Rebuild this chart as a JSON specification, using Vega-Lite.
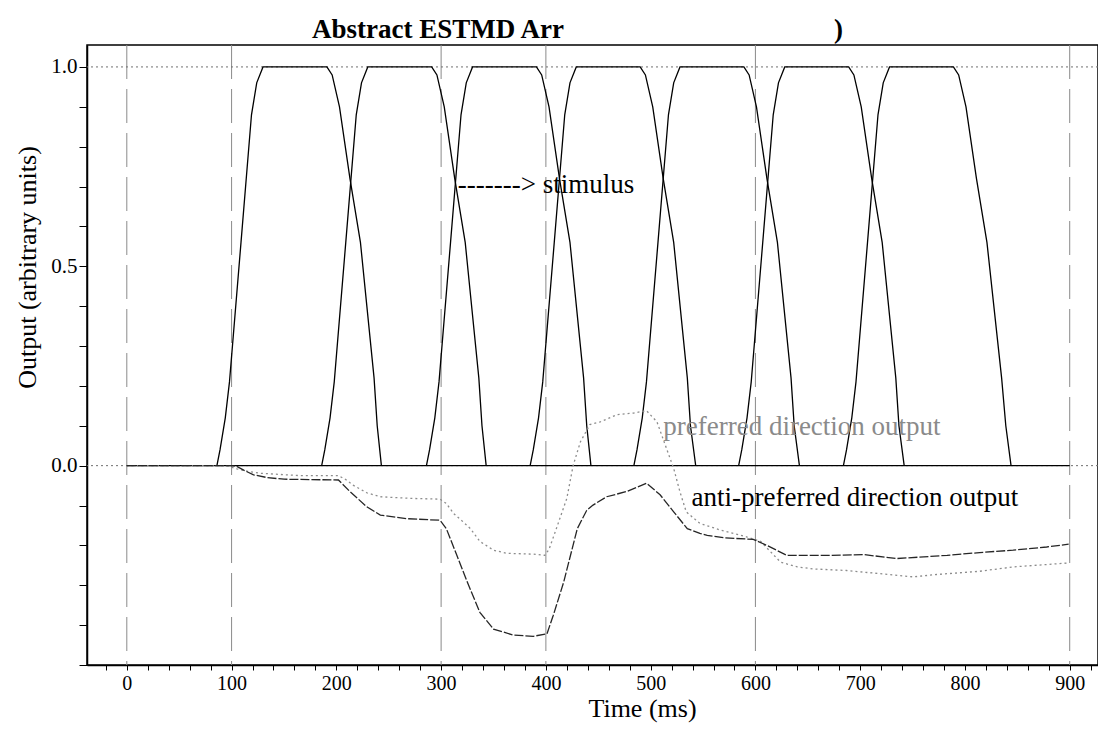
{
  "$schema": "https://vega.github.io/schema/vega-lite/v6.json",
  "width": 1011,
  "height": 620,
  "autosize": {"type": "none"},
  "padding": {"left": 87, "top": 45, "right": 0, "bottom": 64},
  "background": "#ffffff",
  "config": {
    "font": "Liberation Serif",
    "view": {"stroke": "#000000", "strokeWidth": 1.5},
    "axis": {
      "domainColor": "#000000",
      "domainWidth": 1.5,
      "tickColor": "#000000",
      "grid": false,
      "labelFont": "Liberation Serif",
      "labelColor": "#000000",
      "titleFont": "Liberation Serif",
      "titleColor": "#000000",
      "titleFontWeight": "normal"
    }
  },
  "title": {
    "text": "Abstract ESTMD Arr\u00a0\u00a0\u00a0\u00a0\u00a0\u00a0\u00a0\u00a0\u00a0\u00a0\u00a0\u00a0\u00a0\u00a0\u00a0\u00a0\u00a0\u00a0\u00a0\u00a0\u00a0\u00a0\u00a0\u00a0\u00a0\u00a0\u00a0\u00a0\u00a0\u00a0\u00a0\u00a0\u00a0\u00a0\u00a0\u00a0\u00a0\u00a0\u00a0\u00a0)",
    "anchor": "start",
    "frame": "group",
    "dx": 225,
    "dy": 29,
    "offset": 9,
    "baseline": "alphabetic",
    "font": "Liberation Serif",
    "fontSize": 27,
    "fontWeight": "bold",
    "color": "#000000"
  },
  "datasets": {
    "stimulus": [
      {"pulse": "base", "t": 0, "v": 0}, {"pulse": "base", "t": 900, "v": 0},
      {"pulse": "p1", "t": 86, "v": 0}, {"pulse": "p1", "t": 89, "v": 0.04}, {"pulse": "p1", "t": 94, "v": 0.12}, {"pulse": "p1", "t": 98, "v": 0.21},
      {"pulse": "p1", "t": 109, "v": 0.56}, {"pulse": "p1", "t": 119, "v": 0.88}, {"pulse": "p1", "t": 124, "v": 0.96}, {"pulse": "p1", "t": 130, "v": 1},
      {"pulse": "p1", "t": 191, "v": 1}, {"pulse": "p1", "t": 196, "v": 0.98}, {"pulse": "p1", "t": 203, "v": 0.9}, {"pulse": "p1", "t": 213, "v": 0.72},
      {"pulse": "p1", "t": 223, "v": 0.56}, {"pulse": "p1", "t": 236, "v": 0.22}, {"pulse": "p1", "t": 239, "v": 0.1}, {"pulse": "p1", "t": 243, "v": 0},
      {"pulse": "p2", "t": 186, "v": 0}, {"pulse": "p2", "t": 189, "v": 0.04}, {"pulse": "p2", "t": 194, "v": 0.12}, {"pulse": "p2", "t": 198, "v": 0.21},
      {"pulse": "p2", "t": 209, "v": 0.56}, {"pulse": "p2", "t": 219, "v": 0.88}, {"pulse": "p2", "t": 224, "v": 0.96}, {"pulse": "p2", "t": 230, "v": 1},
      {"pulse": "p2", "t": 291, "v": 1}, {"pulse": "p2", "t": 296, "v": 0.98}, {"pulse": "p2", "t": 303, "v": 0.9}, {"pulse": "p2", "t": 313, "v": 0.72},
      {"pulse": "p2", "t": 323, "v": 0.56}, {"pulse": "p2", "t": 336, "v": 0.22}, {"pulse": "p2", "t": 339, "v": 0.1}, {"pulse": "p2", "t": 343, "v": 0},
      {"pulse": "p3", "t": 286, "v": 0}, {"pulse": "p3", "t": 289, "v": 0.04}, {"pulse": "p3", "t": 294, "v": 0.12}, {"pulse": "p3", "t": 298, "v": 0.21},
      {"pulse": "p3", "t": 309, "v": 0.56}, {"pulse": "p3", "t": 319, "v": 0.88}, {"pulse": "p3", "t": 324, "v": 0.96}, {"pulse": "p3", "t": 330, "v": 1},
      {"pulse": "p3", "t": 391, "v": 1}, {"pulse": "p3", "t": 396, "v": 0.98}, {"pulse": "p3", "t": 403, "v": 0.9}, {"pulse": "p3", "t": 413, "v": 0.72},
      {"pulse": "p3", "t": 423, "v": 0.56}, {"pulse": "p3", "t": 436, "v": 0.22}, {"pulse": "p3", "t": 439, "v": 0.1}, {"pulse": "p3", "t": 443, "v": 0},
      {"pulse": "p4", "t": 385, "v": 0}, {"pulse": "p4", "t": 388, "v": 0.04}, {"pulse": "p4", "t": 393, "v": 0.12}, {"pulse": "p4", "t": 397, "v": 0.21},
      {"pulse": "p4", "t": 408, "v": 0.56}, {"pulse": "p4", "t": 418, "v": 0.88}, {"pulse": "p4", "t": 423, "v": 0.96}, {"pulse": "p4", "t": 429, "v": 1},
      {"pulse": "p4", "t": 490, "v": 1}, {"pulse": "p4", "t": 495, "v": 0.98}, {"pulse": "p4", "t": 502, "v": 0.9}, {"pulse": "p4", "t": 512, "v": 0.72},
      {"pulse": "p4", "t": 522, "v": 0.56}, {"pulse": "p4", "t": 535, "v": 0.22}, {"pulse": "p4", "t": 538, "v": 0.1}, {"pulse": "p4", "t": 543, "v": 0},
      {"pulse": "p5", "t": 484, "v": 0}, {"pulse": "p5", "t": 487, "v": 0.04}, {"pulse": "p5", "t": 492, "v": 0.12}, {"pulse": "p5", "t": 496, "v": 0.21},
      {"pulse": "p5", "t": 507, "v": 0.56}, {"pulse": "p5", "t": 517, "v": 0.88}, {"pulse": "p5", "t": 522, "v": 0.96}, {"pulse": "p5", "t": 528, "v": 1},
      {"pulse": "p5", "t": 589, "v": 1}, {"pulse": "p5", "t": 594, "v": 0.98}, {"pulse": "p5", "t": 601, "v": 0.9}, {"pulse": "p5", "t": 611, "v": 0.72},
      {"pulse": "p5", "t": 621, "v": 0.56}, {"pulse": "p5", "t": 634, "v": 0.22}, {"pulse": "p5", "t": 637, "v": 0.1}, {"pulse": "p5", "t": 642, "v": 0},
      {"pulse": "p6", "t": 584, "v": 0}, {"pulse": "p6", "t": 587, "v": 0.04}, {"pulse": "p6", "t": 592, "v": 0.12}, {"pulse": "p6", "t": 596, "v": 0.21},
      {"pulse": "p6", "t": 607, "v": 0.56}, {"pulse": "p6", "t": 617, "v": 0.88}, {"pulse": "p6", "t": 622, "v": 0.96}, {"pulse": "p6", "t": 628, "v": 1},
      {"pulse": "p6", "t": 689, "v": 1}, {"pulse": "p6", "t": 694, "v": 0.98}, {"pulse": "p6", "t": 701, "v": 0.9}, {"pulse": "p6", "t": 711, "v": 0.72},
      {"pulse": "p6", "t": 721, "v": 0.56}, {"pulse": "p6", "t": 734, "v": 0.22}, {"pulse": "p6", "t": 737, "v": 0.1}, {"pulse": "p6", "t": 742, "v": 0},
      {"pulse": "p7", "t": 684, "v": 0}, {"pulse": "p7", "t": 687, "v": 0.04}, {"pulse": "p7", "t": 692, "v": 0.12}, {"pulse": "p7", "t": 696, "v": 0.21},
      {"pulse": "p7", "t": 707, "v": 0.56}, {"pulse": "p7", "t": 717, "v": 0.88}, {"pulse": "p7", "t": 722, "v": 0.96}, {"pulse": "p7", "t": 728, "v": 1},
      {"pulse": "p7", "t": 789, "v": 1}, {"pulse": "p7", "t": 794, "v": 0.98}, {"pulse": "p7", "t": 801, "v": 0.9}, {"pulse": "p7", "t": 811, "v": 0.72},
      {"pulse": "p7", "t": 821, "v": 0.56}, {"pulse": "p7", "t": 835, "v": 0.22}, {"pulse": "p7", "t": 839, "v": 0.1}, {"pulse": "p7", "t": 844, "v": 0}
    ],
    "responses": [
      {"series": "preferred", "t": 0, "v": 0}, {"series": "preferred", "t": 95, "v": 0}, {"series": "preferred", "t": 105, "v": -0.008},
      {"series": "preferred", "t": 115, "v": -0.014}, {"series": "preferred", "t": 127, "v": -0.019}, {"series": "preferred", "t": 146, "v": -0.022},
      {"series": "preferred", "t": 165, "v": -0.025}, {"series": "preferred", "t": 202, "v": -0.025}, {"series": "preferred", "t": 209, "v": -0.035},
      {"series": "preferred", "t": 216, "v": -0.049}, {"series": "preferred", "t": 229, "v": -0.068}, {"series": "preferred", "t": 242, "v": -0.078},
      {"series": "preferred", "t": 270, "v": -0.082}, {"series": "preferred", "t": 299, "v": -0.084}, {"series": "preferred", "t": 305, "v": -0.095},
      {"series": "preferred", "t": 312, "v": -0.12}, {"series": "preferred", "t": 321, "v": -0.141}, {"series": "preferred", "t": 328, "v": -0.158},
      {"series": "preferred", "t": 337, "v": -0.19}, {"series": "preferred", "t": 350, "v": -0.212}, {"series": "preferred", "t": 363, "v": -0.22},
      {"series": "preferred", "t": 388, "v": -0.222}, {"series": "preferred", "t": 399, "v": -0.225}, {"series": "preferred", "t": 403, "v": -0.21},
      {"series": "preferred", "t": 410, "v": -0.158}, {"series": "preferred", "t": 420, "v": -0.082}, {"series": "preferred", "t": 426, "v": 0},
      {"series": "preferred", "t": 433, "v": 0.06}, {"series": "preferred", "t": 442, "v": 0.103}, {"series": "preferred", "t": 452, "v": 0.11},
      {"series": "preferred", "t": 468, "v": 0.128}, {"series": "preferred", "t": 484, "v": 0.132}, {"series": "preferred", "t": 496, "v": 0.138},
      {"series": "preferred", "t": 506, "v": 0.11}, {"series": "preferred", "t": 515, "v": 0.044}, {"series": "preferred", "t": 522, "v": -0.007},
      {"series": "preferred", "t": 528, "v": -0.066}, {"series": "preferred", "t": 534, "v": -0.116}, {"series": "preferred", "t": 547, "v": -0.145},
      {"series": "preferred", "t": 566, "v": -0.161}, {"series": "preferred", "t": 592, "v": -0.179}, {"series": "preferred", "t": 605, "v": -0.19},
      {"series": "preferred", "t": 624, "v": -0.242}, {"series": "preferred", "t": 640, "v": -0.254}, {"series": "preferred", "t": 655, "v": -0.259},
      {"series": "preferred", "t": 687, "v": -0.263}, {"series": "preferred", "t": 719, "v": -0.271}, {"series": "preferred", "t": 751, "v": -0.279},
      {"series": "preferred", "t": 773, "v": -0.273}, {"series": "preferred", "t": 814, "v": -0.265}, {"series": "preferred", "t": 846, "v": -0.254},
      {"series": "preferred", "t": 878, "v": -0.248}, {"series": "preferred", "t": 899, "v": -0.244},
      {"series": "anti-preferred", "t": 0, "v": 0}, {"series": "anti-preferred", "t": 100, "v": 0}, {"series": "anti-preferred", "t": 105, "v": -0.002},
      {"series": "anti-preferred", "t": 112, "v": -0.012}, {"series": "anti-preferred", "t": 121, "v": -0.023}, {"series": "anti-preferred", "t": 134, "v": -0.03},
      {"series": "anti-preferred", "t": 150, "v": -0.034}, {"series": "anti-preferred", "t": 202, "v": -0.036}, {"series": "anti-preferred", "t": 213, "v": -0.065},
      {"series": "anti-preferred", "t": 229, "v": -0.103}, {"series": "anti-preferred", "t": 242, "v": -0.124}, {"series": "anti-preferred", "t": 267, "v": -0.133},
      {"series": "anti-preferred", "t": 299, "v": -0.137}, {"series": "anti-preferred", "t": 305, "v": -0.158}, {"series": "anti-preferred", "t": 315, "v": -0.225},
      {"series": "anti-preferred", "t": 325, "v": -0.292}, {"series": "anti-preferred", "t": 337, "v": -0.368}, {"series": "anti-preferred", "t": 350, "v": -0.41},
      {"series": "anti-preferred", "t": 369, "v": -0.425}, {"series": "anti-preferred", "t": 388, "v": -0.428}, {"series": "anti-preferred", "t": 401, "v": -0.422},
      {"series": "anti-preferred", "t": 407, "v": -0.376}, {"series": "anti-preferred", "t": 417, "v": -0.292}, {"series": "anti-preferred", "t": 430, "v": -0.158},
      {"series": "anti-preferred", "t": 439, "v": -0.112}, {"series": "anti-preferred", "t": 445, "v": -0.099}, {"series": "anti-preferred", "t": 458, "v": -0.078},
      {"series": "anti-preferred", "t": 477, "v": -0.065}, {"series": "anti-preferred", "t": 496, "v": -0.044}, {"series": "anti-preferred", "t": 509, "v": -0.073},
      {"series": "anti-preferred", "t": 522, "v": -0.116}, {"series": "anti-preferred", "t": 535, "v": -0.158}, {"series": "anti-preferred", "t": 547, "v": -0.17},
      {"series": "anti-preferred", "t": 554, "v": -0.175}, {"series": "anti-preferred", "t": 570, "v": -0.181}, {"series": "anti-preferred", "t": 598, "v": -0.185},
      {"series": "anti-preferred", "t": 611, "v": -0.2}, {"series": "anti-preferred", "t": 630, "v": -0.225}, {"series": "anti-preferred", "t": 671, "v": -0.225},
      {"series": "anti-preferred", "t": 703, "v": -0.223}, {"series": "anti-preferred", "t": 735, "v": -0.233}, {"series": "anti-preferred", "t": 783, "v": -0.225},
      {"series": "anti-preferred", "t": 814, "v": -0.218}, {"series": "anti-preferred", "t": 846, "v": -0.212}, {"series": "anti-preferred", "t": 878, "v": -0.204},
      {"series": "anti-preferred", "t": 899, "v": -0.197}
    ],
    "notes": [
      {"series": "stimulus", "t": 316, "v": 0.685, "text": "-------> stimulus"},
      {"series": "preferred", "t": 512, "v": 0.078, "text": "preferred direction output"},
      {"series": "anti-preferred", "t": 539, "v": -0.1, "text": "anti-preferred direction output"}
    ],
    "gridTimes": [{"t": 0}, {"t": 100}, {"t": 300}, {"t": 400}, {"t": 600}, {"t": 900}],
    "gridLevels": [{"v": 0}, {"v": 1}]
  },
  "encoding": {
    "x": {
      "field": "t",
      "type": "quantitative",
      "scale": {"domain": [-38, 927], "nice": false, "zero": false},
      "axis": {
        "title": "Time (ms)",
        "titleFontSize": 26,
        "titleX": 555,
        "titleY": 51,
        "titleAlign": "center",
        "titleBaseline": "alphabetic",
        "values": [-20, 0, 20, 40, 60, 80, 100, 120, 140, 160, 180, 200, 220, 240, 260, 280, 300, 320, 340, 360, 380, 400, 420, 440, 460, 480, 500, 520, 540, 560, 580, 600, 620, 640, 660, 680, 700, 720, 740, 760, 780, 800, 820, 840, 860, 880, 900, 920],
        "labelExpr": "datum.value >= 0 && datum.value % 100 === 0 ? format(datum.value, 'd') : ''",
        "labelFontSize": 20,
        "labelPadding": 3,
        "labelFlush": false,
        "labelOverlap": false,
        "tickSize": 5
      }
    },
    "y": {
      "field": "v",
      "type": "quantitative",
      "scale": {"domain": [-0.5, 1.055], "nice": false, "zero": false},
      "axis": {
        "title": "Output (arbitrary units)",
        "titleFontSize": 26,
        "titleX": -60,
        "titleY": 222,
        "titleAngle": -90,
        "titleAlign": "center",
        "titleBaseline": "middle",
        "values": [-0.5, -0.4, -0.3, -0.2, -0.1, 0, 0.1, 0.2, 0.3, 0.4, 0.5, 0.6, 0.7, 0.8, 0.9, 1.0],
        "labelExpr": "datum.value > -0.001 && abs(datum.value * 2 - round(datum.value * 2)) < 0.001 ? format(datum.value, '.1f') : ''",
        "labelFontSize": 21,
        "labelPadding": 2,
        "labelFlush": false,
        "labelOverlap": false,
        "tickSize": 8
      }
    }
  },
  "layer": [
    {
      "data": {"name": "gridTimes"},
      "mark": {"type": "rule", "stroke": "#8a8a8a", "strokeWidth": 1, "strokeDash": [34, 10]},
      "encoding": {"y": null}
    },
    {
      "data": {"name": "gridLevels"},
      "mark": {"type": "rule", "stroke": "#6f6f6f", "strokeWidth": 1, "strokeDash": [2, 3]},
      "encoding": {"x": null}
    },
    {
      "data": {"name": "stimulus"},
      "mark": {"type": "line", "stroke": "#000000", "strokeWidth": 1.3},
      "encoding": {"detail": {"field": "pulse"}}
    },
    {
      "data": {"name": "responses"},
      "mark": {"type": "line", "strokeWidth": 1.3},
      "encoding": {
        "detail": {"field": "series"},
        "stroke": {
          "field": "series",
          "type": "nominal",
          "scale": {"domain": ["preferred", "anti-preferred"], "range": ["#8c8c8c", "#262626"]},
          "legend": null
        },
        "strokeDash": {
          "field": "series",
          "type": "nominal",
          "scale": {"domain": ["preferred", "anti-preferred"], "range": [[2, 3], [9, 2]]},
          "legend": null
        }
      }
    },
    {
      "data": {"name": "notes"},
      "mark": {"type": "text", "align": "left", "baseline": "alphabetic", "font": "Liberation Serif", "fontSize": 27},
      "encoding": {
        "text": {"field": "text"},
        "color": {
          "field": "series",
          "type": "nominal",
          "scale": {"domain": ["stimulus", "preferred", "anti-preferred"], "range": ["#000000", "#8a8a8a", "#000000"]},
          "legend": null
        }
      }
    }
  ]
}
